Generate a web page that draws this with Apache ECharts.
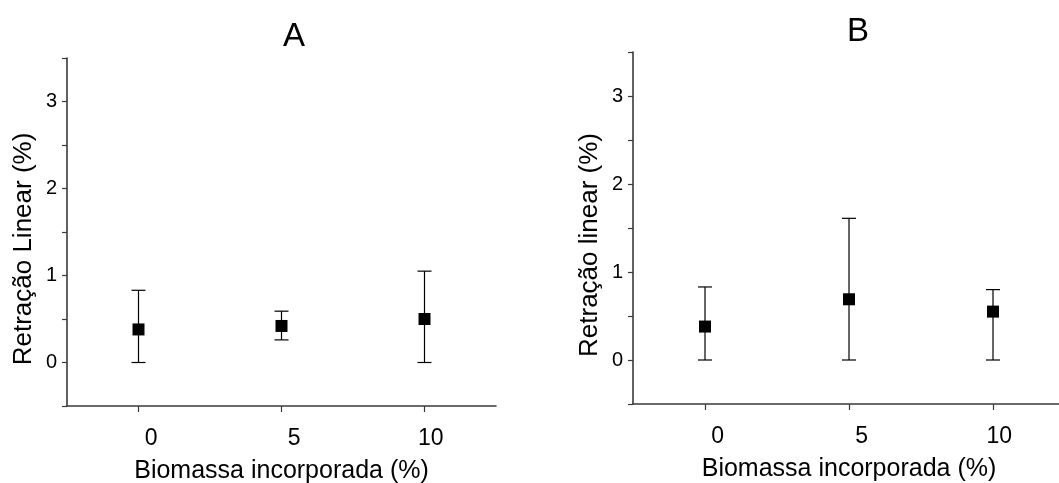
<!DOCTYPE html>
<html>
<head>
<meta charset="utf-8">
<script src="https://cdn.jsdelivr.net/npm/echarts@6/dist/echarts.min.js"></script>
<style>
html,body{margin:0;padding:0;background:#fff;}
#chart{width:1059px;height:483px;}
</style>
</head>
<body>
<div id="chart"></div>
<script>
// Data
const categories = [0, 5, 10];           // Biomassa incorporada (%)
const meanA  = [0.38, 0.42, 0.50];
const upperA = [0.83, 0.59, 1.05];
const lowerA = [0.00, 0.26, 0.00];
const meanB  = [0.38, 0.69, 0.55];
const upperB = [0.83, 1.61, 0.80];
const lowerB = [0.00, 0.00, 0.00];
const xTicks = [0, 5, 10];
const yTicks = [0, 1, 2, 3];

const FONT = '"Liberation Sans", Arial, sans-serif';
const AXIS_COLOR = '#3a3a3a';

function errData(lo, hi) { return categories.map((c, i) => [c, lo[i], hi[i]]); }
function ptData(m) { return categories.map((c, i) => [c, m[i]]); }

function renderErr(params, api) {
  const x = api.value(0);
  const pLo = api.coord([x, api.value(1)]);
  const pHi = api.coord([x, api.value(2)]);
  const w = 7;
  const st = { stroke: '#000', lineWidth: 1.2 };
  return {
    type: 'group',
    children: [
      { type: 'line', shape: { x1: pLo[0], y1: pLo[1], x2: pHi[0], y2: pHi[1] }, style: st },
      { type: 'line', shape: { x1: pLo[0] - w, y1: pLo[1], x2: pLo[0] + w, y2: pLo[1] }, style: st },
      { type: 'line', shape: { x1: pHi[0] - w, y1: pHi[1], x2: pHi[0] + w, y2: pHi[1] }, style: st }
    ]
  };
}

function xAxisDef(gridIndex) {
  return {
    type: 'value', gridIndex,
    min: -2.5, max: 12.5, interval: 2.5,
    name: 'Biomassa incorporada (%)',
    nameLocation: 'middle', nameGap: 53,
    nameTextStyle: { fontFamily: FONT, fontSize: 25, color: '#000' },
    axisLine: { show: true, onZero: false, lineStyle: { color: AXIS_COLOR, width: 1.6 } },
    axisTick: { show: true, customValues: xTicks, length: 6, lineStyle: { color: AXIS_COLOR, width: 1.2 } },
    axisLabel: {
      customValues: xTicks, margin: 21,
      formatter: v => '{a|' + v + '}',
      rich: { a: { width: 38, align: 'right', fontFamily: FONT, fontSize: 23, color: '#000' } }
    },
    splitLine: { show: false }
  };
}

function yAxisDef(gridIndex, name) {
  return {
    type: 'value', gridIndex,
    min: -0.5, max: 3.5, interval: 0.5,
    name: name,
    nameLocation: 'middle', nameGap: 30,
    nameTextStyle: { fontFamily: FONT, fontSize: 26, color: '#000', padding: [0, 34, 0, 0] },
    axisLine: { show: true, onZero: false, lineStyle: { color: AXIS_COLOR, width: 1.6 } },
    axisTick: { show: true, length: 5, lineStyle: { color: AXIS_COLOR, width: 1.2 } },
    axisLabel: { customValues: yTicks, margin: 10, fontFamily: FONT, fontSize: 20, color: '#000' },
    splitLine: { show: false }
  };
}

const chart = echarts.init(document.getElementById('chart'), null, { renderer: 'canvas' });
chart.setOption({
  backgroundColor: '#fff',
  animation: false,
  title: [
    { text: 'A', left: 289, top: 15, textAlign: 'center', textStyle: { fontFamily: FONT, fontSize: 33, fontWeight: 'normal', color: '#000' } },
    { text: 'B', left: 853, top: 10, textAlign: 'center', textStyle: { fontFamily: FONT, fontSize: 33, fontWeight: 'normal', color: '#000' } }
  ],
  grid: [
    { left: 67, top: 58, width: 429, height: 348, containLabel: false, outerBoundsMode: 'none' },
    { left: 633, top: 52, width: 432, height: 352, containLabel: false, outerBoundsMode: 'none' }
  ],
  xAxis: [xAxisDef(0), xAxisDef(1)],
  yAxis: [yAxisDef(0, 'Retração Linear (%)'), yAxisDef(1, 'Retração linear (%)')],
  series: [
    { type: 'custom', xAxisIndex: 0, yAxisIndex: 0, renderItem: renderErr, data: errData(lowerA, upperA), z: 2 },
    { type: 'scatter', xAxisIndex: 0, yAxisIndex: 0, symbol: 'rect', symbolSize: 12, itemStyle: { color: '#000', opacity: 1 }, data: ptData(meanA), z: 3 },
    { type: 'custom', xAxisIndex: 1, yAxisIndex: 1, renderItem: renderErr, data: errData(lowerB, upperB), z: 2 },
    { type: 'scatter', xAxisIndex: 1, yAxisIndex: 1, symbol: 'rect', symbolSize: 12, itemStyle: { color: '#000', opacity: 1 }, data: ptData(meanB), z: 3 }
  ]
});
</script>
</body>
</html>
